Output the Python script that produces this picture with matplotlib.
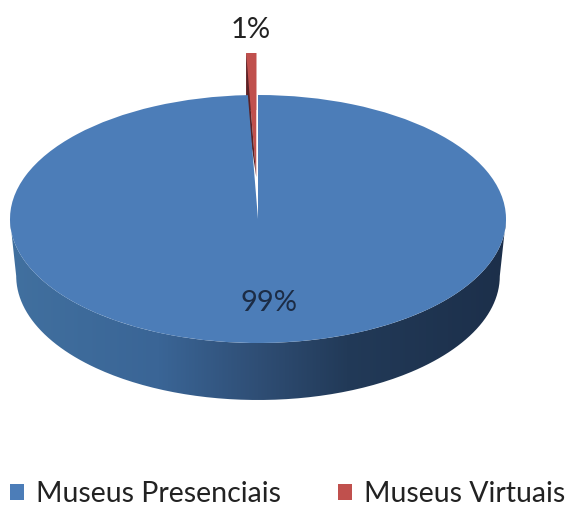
import numpy as np
import matplotlib
matplotlib.use("Agg")
import matplotlib.pyplot as plt
from matplotlib.patches import Polygon, PathPatch
from matplotlib.path import Path
from matplotlib.colors import LinearSegmentedColormap

labels = ["Museus Presenciais", "Museus Virtuais"]
# the thin slice is drawn narrower than a true 1%, it rounds to 1%
values = [99.35, 0.65]
colors = ["#4c7db8", "#c0504d"]

W, H = 574, 507
cx, cy, rx, ry = 258, 219, 248, 124
depth = 57 / ry
explode_y = 42 / ry

plt.rcParams["font.family"] = ["Lato", "DejaVu Sans"]
fig = plt.figure(figsize=(W / 100, H / 100), dpi=100)
ax = fig.add_axes([0, 0, 1, 1])

# angle of the thin slice, it sits just left of 12 o'clock
ang = 360 * values[1] / sum(values)
wedges, _, autotexts = ax.pie(values, colors=colors, startangle=90 + ang, radius=1,
                              explode=[0, 0], autopct="%.0f%%", wedgeprops=dict(linewidth=0),
                              textprops=dict(fontsize=21, color="#1c2c45"))
ax.set_aspect("auto")
ax.axis("off")

# the side of the disc
t = np.linspace(np.pi, 2 * np.pi, 200)
top = np.c_[np.cos(t), np.sin(t)]
bot = np.c_[0.975 * np.cos(t), np.sin(t) - depth][::-1]
side = Path(np.r_[top, bot, top[:1]])
cmap = LinearSegmentedColormap.from_list("side", [(0, "#41709f"), (0.3, "#3a6596"), (0.5, "#2f4e75"),
                                                 (0.68, "#223a58"), (1, "#1c2f4a")])
im = ax.imshow(np.linspace(0, 1, 256)[None, :], cmap=cmap, extent=(-1, 1, -1 - depth, 0),
               aspect="auto", zorder=1)
im.set_clip_path(PathPatch(side, transform=ax.transData))
ax.set_xlim(-cx / rx, (W - cx) / rx)
ax.set_ylim((cy - H) / ry, cy / ry)

# the thin slice is pulled out along its middle, its faces show through the notch
wedges[0].set_zorder(5)
red = wedges[1]
a = np.radians(90 + ang)
shift_x = np.cos(np.radians(90 + ang / 2)) * explode_y
apex = (shift_x, explode_y)
red.set_center(apex)
red.set_zorder(3)
rim_l = (np.cos(a) + shift_x, np.sin(a) + explode_y)
rim_r = (shift_x, 1 + explode_y)
ax.add_patch(Polygon([rim_l, rim_r, (rim_r[0], rim_r[1] - depth), (rim_l[0], rim_l[1] - depth)],
                     fc=colors[1], lw=0, zorder=2))
ax.add_patch(Polygon([rim_l, apex, (rim_l[0], rim_l[1] - depth)], fc="#5a2226", lw=0, zorder=3.5))

autotexts[0].set_position((11 / rx, -84 / ry))
autotexts[0].set_zorder(6)
autotexts[1].set_position((-7 / rx, 189 / ry))
autotexts[1].set_color("#222222")

leg = ax.legend(wedges, labels, ncol=2, loc="lower left", bbox_to_anchor=(0.017, 0), frameon=False,
                fontsize=20.5, handlelength=0.5, handleheight=0.5, handletextpad=0.42, columnspacing=2.0,
                labelcolor="#222222", borderaxespad=0, borderpad=0)
fig.savefig("out.png", dpi=100, facecolor="white")
